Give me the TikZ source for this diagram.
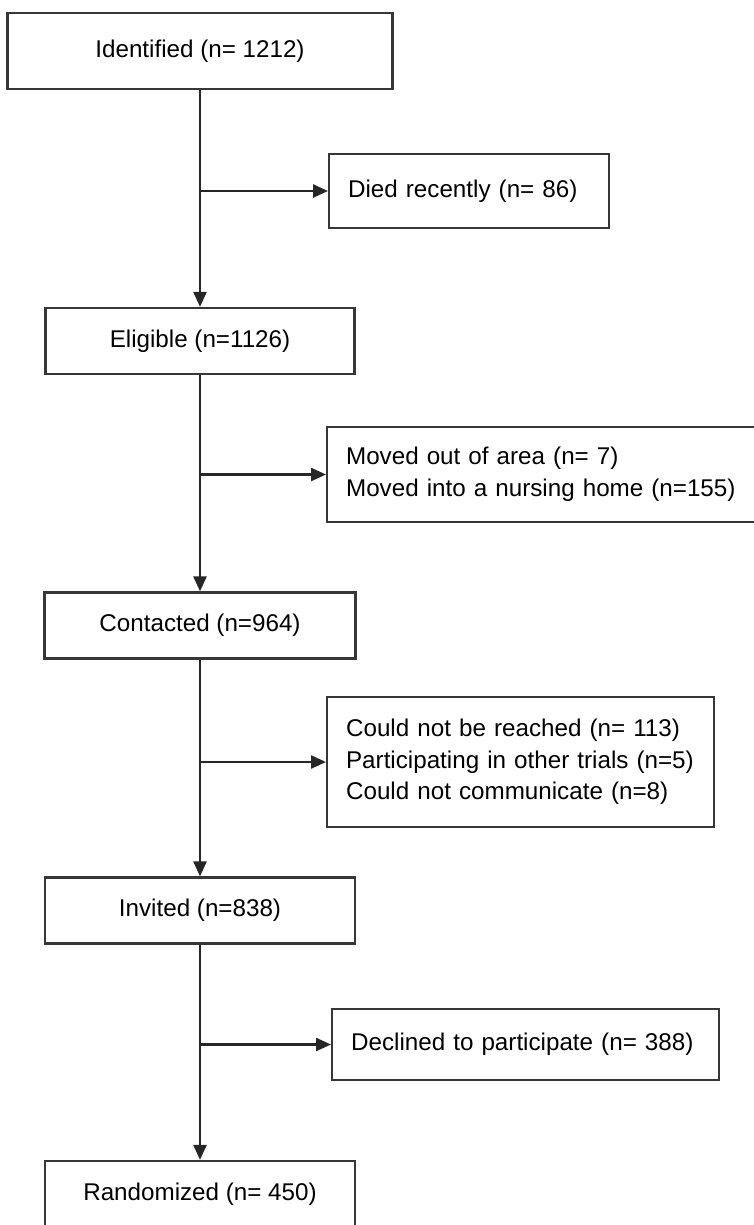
\documentclass[tikz,border=0pt]{standalone}
\usepackage{fontspec}
\setmainfont{Liberation Sans}
\usetikzlibrary{positioning, arrows.meta}
\definecolor{boxgray}{RGB}{55, 55, 55}

\begin{document}
\begin{tikzpicture}[x=1pt, y=-1pt, >={Triangle[length=15pt, width=13pt]},
    font=\fontsize{24.2}{31.7}\selectfont,
    mainbox/.style={rectangle, draw=boxgray, line width=2.2pt, minimum height=66pt, inner sep=0pt},
    sidebox/.style={rectangle, draw=boxgray, line width=2.2pt, align=left, anchor=west,
                    inner xsep=19pt, inner ysep=0pt},
    flow/.style={->, line width=2.4pt, draw=black!85}]
  \useasboundingbox (0,0) rectangle (753,1225);
  % main column
  \node[mainbox, minimum width=385pt, minimum height=76pt] (ident) at (200,51)     {Identified (n= 1212)};
  \node[mainbox, minimum width=309pt]                      (elig)  at (200,341)    {Eligible (n=1126)};
  \node[mainbox, minimum width=311pt]                      (cont)  at (200,625.5)  {Contacted (n=964)};
  \node[mainbox, minimum width=310pt]                      (invit) at (200,910.5)  {Invited (n=838)};
  \node[mainbox, minimum width=310pt]                      (rand)  at (200,1194)   {Randomized (n= 450)};
  % exclusions
  \node[sidebox, text width=242pt, minimum height=74pt]  (died)  at (328,191)  {Died recently (n= 86)};
  \node[sidebox, text width=396pt, minimum height=95pt]  (moved) at (326,474.5) {Moved out of area (n= 7)\\Moved into a nursing home (n=155)};
  \node[sidebox, text width=349pt, minimum height=130pt] (noreach) at (326,762) {Could not be reached (n= 113)\\Participating in other trials (n=5)\\Could not communicate (n=8)};
  \node[sidebox, text width=349pt, minimum height=71pt]  (declin) at (331,1044.5) {Declined to participate (n= 388)};
  % flow down the column
  \draw[flow] (ident) -- (elig);
  \draw[flow] (elig)  -- (cont);
  \draw[flow] (cont)  -- (invit);
  \draw[flow] (invit) -- (rand);
  % side arrows
  \draw[flow] (died.west -| ident.south)    -- (died.west);
  \draw[flow] (moved.west -| elig.south)    -- (moved.west);
  \draw[flow] (noreach.west -| cont.south)  -- (noreach.west);
  \draw[flow] (declin.west -| invit.south)  -- (declin.west);
\end{tikzpicture}
\end{document}
